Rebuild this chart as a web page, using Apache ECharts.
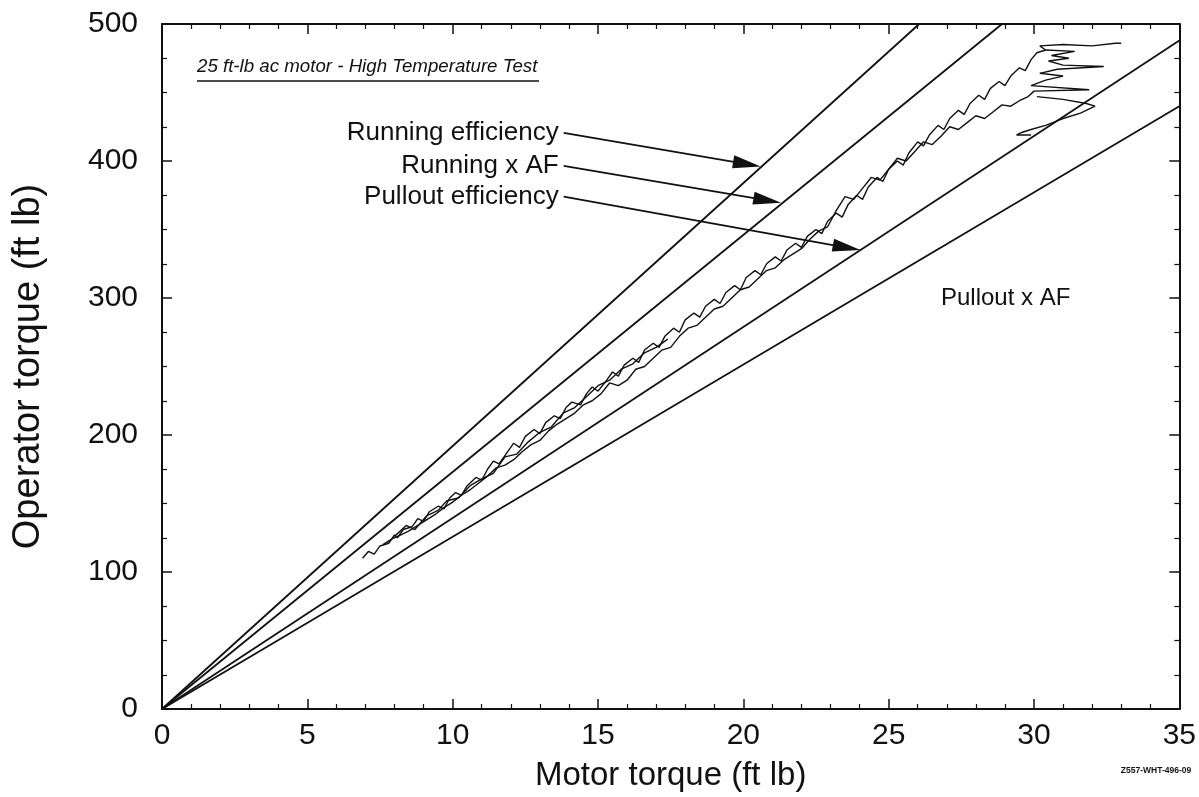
<!DOCTYPE html>
<html>
<head>
<meta charset="utf-8">
<script src="https://cdn.jsdelivr.net/npm/echarts@6/dist/echarts.min.js"></script>
<style>
html,body{margin:0;padding:0;background:#fff;}
#main{width:1199px;height:797px;}
</style>
</head>
<body>
<div id="main"></div>
<script>
// ---- data ----
const chartTitle = '25 ft-lb ac motor - High Temperature Test';
const xAxisName = 'Motor torque (ft lb)';
const yAxisName = 'Operator torque (ft lb)';
const xRange = [0, 35];
const yRange = [0, 500];

const refLineNames = ['Running efficiency', 'Running x AF', 'Pullout efficiency', 'Pullout x AF'];
const refLineEnds = [[26.05, 500], [28.9, 500], [35, 488], [35, 440]];

// arrows: [text-end point, tip point]
const arrowStarts = [[13.82, 420.5], [13.82, 396.5], [13.82, 374]];
const arrowTips = [[20.6, 396], [21.3, 369.5], [24.03, 335]];
const pulloutAFLabelAt = [26.8, 300];

const traceUp = [
[6.9,110],[7.1,115],[7.3,113],[7.5,119],[7.8,121],[8.0,127],[8.1,125],[8.3,131],[8.6,133],[8.8,139],
[9.0,137],[9.2,144],[9.5,148],[9.7,146],[9.9,154],[10.1,158],[10.3,156],[10.5,163],[10.8,169],[11.0,167],
[11.2,175],[11.4,181],[11.6,179],[11.9,188],[12.1,194],[12.3,191],[12.5,199],[12.8,204],[13.0,201],[13.2,209],
[13.5,214],[13.7,212],[13.9,220],[14.1,224],[14.4,222],[14.6,230],[14.8,235],[15.0,232],[15.3,240],[15.5,246],
[15.7,243],[15.9,251],[16.2,256],[16.4,253],[16.6,262],[16.9,267],[17.1,264],[17.3,272],[17.6,278],[17.8,275],
[18.0,284],[18.3,289],[18.5,286],[18.7,294],[19.0,299],[19.2,296],[19.4,304],[19.7,309],[19.9,306],[20.1,315],
[20.4,320],[20.6,317],[20.8,325],[21.1,330],[21.3,327],[21.5,335],[21.8,340],[22.0,337],[22.2,345],[22.5,350],
[22.7,347],[22.9,356],[23.2,362],[23.4,359],[23.6,368],[23.9,375],[24.1,372],[24.3,381],[24.6,388],[24.8,385],
[25.0,394],[25.3,400],[25.5,397],[25.7,406],[26.0,414],[26.2,411],[26.4,419],[26.7,426],[26.9,423],[27.1,431],
[27.4,437],[27.6,434],[27.8,442],[28.1,448],[28.3,445],[28.5,453],[28.8,458],[29.0,455],[29.2,462],[29.5,468],
[29.7,466],[29.9,474],[30.1,479],[30.4,481],[30.2,484],[31.0,485],[32.0,484],[32.8,486],[33.0,486]
];

const traceDown = [
[30.4,481],[31.4,480],[30.6,477],[31.2,475],[30.5,473],[31.0,470],[32.4,469],[30.8,467],[30.2,464],[31.0,462],
[30.4,459],[29.9,455],[31.9,452],[30.0,451],[29.8,447],[29.5,444],[29.2,440],[28.9,441],[28.6,436],[28.3,431],
[28.0,433],[27.7,428],[27.4,423],[27.1,425],[26.8,418],[26.5,412],[26.2,414],[25.9,407],[25.6,400],[25.3,402],
[25.0,394],[24.7,386],[24.4,388],[24.1,380],[23.8,372],[23.5,374],[23.2,364],[22.9,352],[22.6,349],[22.3,343],
[22.0,336],[21.7,332],[21.4,328],[21.1,322],[20.8,320],[20.5,314],[20.2,308],[19.9,306],[19.6,300],[19.3,294],
[19.0,292],[18.7,286],[18.4,280],[18.1,278],[17.8,272],[17.5,264],[17.2,262],[16.9,256],[16.6,250],[16.3,248],
[16.0,240],[15.7,236],[15.4,238],[15.1,230],[14.8,225],[14.5,222],[14.2,216],[13.9,212],[13.6,208],[13.3,203],
[13.0,196],[12.7,193],[12.4,188],[12.1,182],[11.8,178],[11.5,176],[11.2,170],[10.9,165],[10.6,160],[10.3,156],
[10.0,151],[9.7,147],[9.4,142],[9.1,138],[8.8,134],[8.5,130],[8.2,127],[7.9,124],[7.6,120]
];

const traceMid = [
[8.0,126],[8.4,134],[8.7,131],[9.1,141],[9.5,145],[9.8,152],[10.2,154],[10.6,163],[11.0,168],[11.4,172],
[11.8,184],[12.2,186],[12.6,195],[13.0,202],[13.4,206],[13.8,216],[14.2,220],[14.6,228],[15.0,236],[15.4,240],
[15.8,248],[16.2,252],[16.6,260],[17.0,264],[17.4,270]
];

const traceTail = [
[30.1,447],[31.0,445],[31.8,442],[32.1,440],[31.6,435],[31.0,431],[30.4,426],[29.9,423],[29.6,421],[29.4,419],[29.9,419]
];

// ---- chart ----
const chart = echarts.init(document.getElementById('main'));
const FONT = '"Liberation Sans", Arial, Helvetica, sans-serif';
const INK = '#111';
const ARROW_W = 13, ARROW_L = 28;

function traceSeries(data) {
  return {
    type: 'line', data: data, symbol: 'none', silent: true,
    lineStyle: { color: INK, width: 1.4 }, z: 3, animation: false
  };
}

function axisStyle(extra) {
  return Object.assign({
    type: 'value',
    axisLine: { show: true, onZero: false, lineStyle: { color: INK, width: 2 } },
    axisTick: { show: true, inside: true, length: 10, lineStyle: { color: INK, width: 1.5 } },
    minorTick: { show: true, length: 5, lineStyle: { color: INK, width: 1.2 } },
    splitLine: { show: false }
  }, extra);
}

const baseOption = {
  backgroundColor: '#fff',
  animation: false,
  grid: { left: 162, right: 15, top: 24, bottom: 87, containLabel: false },
  xAxis: [
    axisStyle({
      min: xRange[0], max: xRange[1], interval: 5, position: 'bottom',
      name: xAxisName, nameLocation: 'middle', nameGap: 50,
      nameTextStyle: { fontFamily: FONT, fontSize: 33, color: INK },
      axisLabel: { fontFamily: FONT, fontSize: 30, color: INK, margin: 12 },
      minorTick: { show: true, splitNumber: 5, length: 5, lineStyle: { color: INK, width: 1.2 } }
    }),
    axisStyle({
      min: xRange[0], max: xRange[1], interval: 5, position: 'top',
      axisLabel: { show: false },
      minorTick: { show: true, splitNumber: 5, length: 5, lineStyle: { color: INK, width: 1.2 } }
    })
  ],
  yAxis: [
    axisStyle({
      min: yRange[0], max: yRange[1], interval: 100, position: 'left',
      name: yAxisName, nameLocation: 'middle', nameGap: 114, nameRotate: 90,
      nameTextStyle: { fontFamily: FONT, fontSize: 38, color: INK },
      axisLabel: { fontFamily: FONT, fontSize: 30, color: INK, margin: 24 },
      minorTick: { show: true, splitNumber: 4, length: 5, lineStyle: { color: INK, width: 1.2 } }
    }),
    axisStyle({
      min: yRange[0], max: yRange[1], interval: 100, position: 'right',
      axisLabel: { show: false },
      minorTick: { show: true, splitNumber: 4, length: 5, lineStyle: { color: INK, width: 1.2 } }
    })
  ],
  series: []
};

const series = [];
refLineEnds.forEach(function (end, i) {
  series.push({
    name: refLineNames[i], type: 'line', data: [[0, 0], end], symbol: 'none', silent: true,
    lineStyle: { color: INK, width: 1.8 }, animation: false, z: 2
  });
});
series.push(traceSeries(traceUp));
series.push(traceSeries(traceDown));
series.push(traceSeries(traceMid));
series.push(traceSeries(traceTail));
baseOption.series = series;
chart.setOption(baseOption);

// arrows: shift the arrow-head centre back so its tip lands on the target point
function px(pt) { return chart.convertToPixel({ xAxisIndex: 0, yAxisIndex: 0 }, pt); }
function dt(p) { return chart.convertFromPixel({ xAxisIndex: 0, yAxisIndex: 0 }, p); }
const arrowData = arrowStarts.map(function (s, i) {
  const a = px(s), b = px(arrowTips[i]);
  const dx = b[0] - a[0], dy = b[1] - a[1], len = Math.sqrt(dx * dx + dy * dy);
  const c = [b[0] - dx / len * ARROW_L / 2, b[1] - dy / len * ARROW_L / 2];
  return [{ coord: s }, { coord: dt(c) }];
});
series.push({
  type: 'line', data: [], silent: true, animation: false,
  markLine: {
    silent: true, animation: false,
    symbol: ['none', 'triangle'], symbolSize: [ARROW_W, ARROW_L],
    lineStyle: { color: INK, width: 1.8, type: 'solid' },
    label: { show: false },
    data: arrowData
  }
});

const graphics = [];
for (let i = 0; i < 3; i++) {
  const p = px(arrowStarts[i]);
  graphics.push({
    type: 'text', x: p[0] - 5, y: p[1],
    style: { text: refLineNames[i], font: '26px ' + FONT, fill: INK, textAlign: 'right', textVerticalAlign: 'middle' }
  });
}
const pAF = px(pulloutAFLabelAt);
graphics.push({
  type: 'text', x: pAF[0], y: pAF[1],
  style: { text: refLineNames[3], font: '24px ' + FONT, fill: INK, textAlign: 'left', textVerticalAlign: 'middle' }
});
graphics.push({
  type: 'text', x: 197, y: 67,
  style: { text: chartTitle, font: 'italic 18.7px ' + FONT, fill: INK, textAlign: 'left', textVerticalAlign: 'middle' }
});
graphics.push({
  type: 'line', shape: { x1: 197, y1: 81, x2: 539, y2: 81 },
  style: { stroke: INK, lineWidth: 1.6 }
});
graphics.push({
  type: 'text', x: 1156, y: 771,
  style: { text: 'Z557-WHT-496-09', font: 'bold 8.5px ' + FONT, fill: INK, textAlign: 'center', textVerticalAlign: 'middle' }
});
chart.setOption({ series: series, graphic: graphics });
</script>
</body>
</html>
